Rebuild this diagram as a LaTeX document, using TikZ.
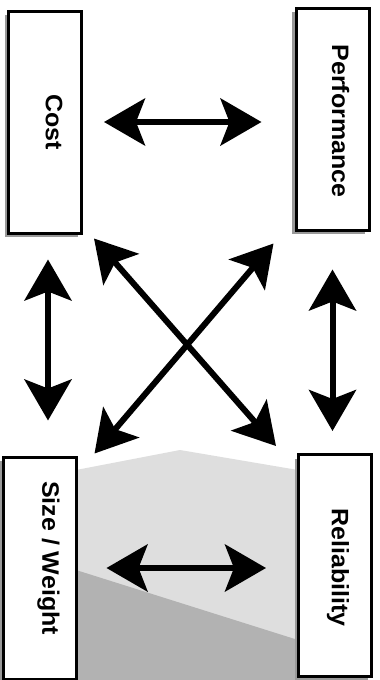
\documentclass[tikz,border=0pt]{standalone}
\usepackage{fontspec}
\setmainfont{Liberation Sans}
\usetikzlibrary{arrows.meta,shadows}

\tikzset{
    bighead/.tip={Stealth[length=41pt, width=47pt, inset=9pt]}
}

\begin{document}
\begin{tikzpicture}[
    x=1pt, y=-1pt,
    box/.style={draw, line width=3pt, fill=white, inner sep=0pt,
        minimum width=73pt, minimum height=222pt,
        drop shadow={shadow xshift=-4pt, shadow yshift=-4pt, fill=black!40, opacity=1}},
    lbl/.style={rotate=-90, inner sep=0pt, font=\bfseries\fontsize{25}{25}\selectfont},
    dbl/.style={line width=6pt, bighead-bighead}
]
\useasboundingbox (0,0) rectangle (380,680);

% scanned background
\fill[black!13] (76,470) -- (180,450) -- (298,470) -- (298,680) -- (76,680) -- cycle;
\fill[black!30] (76,570) -- (298,640) -- (298,680) -- (76,680) -- cycle;

\node[box] (cost) at (45,122) {};
\node[box] (perf) at (332.5,119) {};
\node[box] (size) at (39.5,568) {};
\node[box] (rel) at (335,565.5) {};

\node[lbl] at ([xshift=9pt]cost.center) {\scalebox{1}[0.95]{Cost}};
\node[lbl] at ([xshift=8pt, yshift=-2pt]perf.center) {\scalebox{1}[0.95]{Performance}};
\node[lbl] at ([xshift=9pt, yshift=10pt]size.center) {\scalebox{1}[0.95]{Size / Weight}};
\node[lbl] at ([xshift=3pt, yshift=-2pt]rel.center) {\scalebox{1}[0.95]{Reliability}};

\draw[dbl, shorten <=21pt, shorten >=33pt] (cost.east) -- (cost.east -| perf.west);
\draw[dbl, shorten <=29pt, shorten >=31pt] (size.east) -- (size.east -| rel.west);
\draw[dbl, shorten <=25pt, shorten >=35pt] ([xshift=3pt]cost.south) -- ([xshift=3pt]cost.south |- size.north);
\draw[dbl, shorten <=38pt, shorten >=22pt] (perf.south) -- (perf.south |- rel.north);
\draw[dbl] ([shift={(11,4)}]cost.south east) -- ([shift={(-21,-7)}]rel.north west);
\draw[dbl] ([shift={(-21,12)}]perf.south west) -- ([shift={(17,-2)}]size.north east);

\end{tikzpicture}
\end{document}
